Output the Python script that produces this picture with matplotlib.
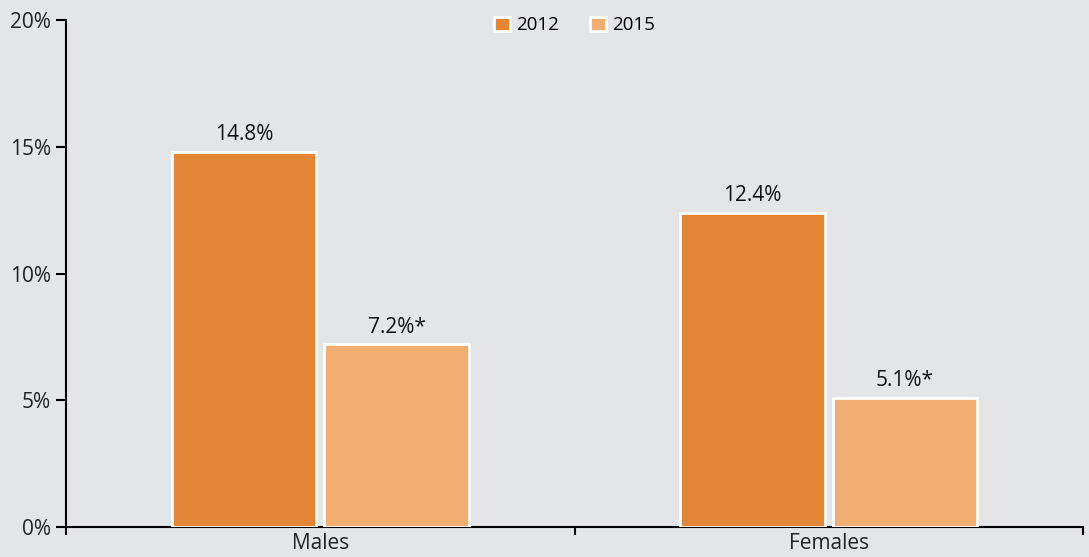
import numpy as np
import matplotlib.pyplot as plt

groups = ["Males", "Females"]
years = ["2012", "2015"]
values_2012 = [14.8, 12.4]
values_2015 = [7.2, 5.1]
labels_2012 = ["14.8%", "12.4%"]
labels_2015 = ["7.2%*", "5.1%*"]
yticks = [0, 5, 10, 15, 20]

bg = "#e4e5e7"
c2012 = "#e38535"
c2015 = "#f2ad70"

plt.rcParams['font.family'] = ['Open Sans', 'DejaVu Sans']

fig = plt.figure(figsize=(10.89, 5.57), dpi=100, facecolor=bg)
ax = fig.add_axes([66 / 1089, 1 - 527 / 557, (1083 - 66) / 1089, (527 - 20) / 557])
ax.set_facecolor(bg)

x = np.arange(len(groups))
w = 0.285
b1 = ax.bar(x - 0.15, values_2012, w, color=c2012, edgecolor="white", linewidth=2, label=years[0], zorder=3)
b2 = ax.bar(x + 0.15, values_2015, w, color=c2015, edgecolor="white", linewidth=2, label=years[1], zorder=3)

for bars, labs in ((b1, labels_2012), (b2, labels_2015)):
    for r, t in zip(bars, labs):
        ax.text(r.get_x() + r.get_width() / 2, r.get_height() + 0.25, t,
                ha="center", va="bottom", fontsize=15, color="#111111")

ax.set_xlim(-0.5, 1.5)
ax.set_ylim(0, 20)
ax.set_yticks(yticks)
ax.set_yticklabels([f"{v}%" for v in yticks], fontsize=15, color="#222222")
ax.set_xticks([-0.5, 0.5, 1.5])
ax.set_xticklabels([])
ax.set_xticks(x, minor=True)
ax.set_xticklabels(groups, minor=True, fontsize=15, color="#222222")
ax.tick_params(axis="x", which="minor", length=0, pad=4)
ax.tick_params(axis="x", which="major", length=6, width=1.5, color="black")
ax.tick_params(axis="y", length=7, width=1.5, color="black", pad=4)

for s in ("top", "right"):
    ax.spines[s].set_visible(False)
for s in ("left", "bottom"):
    ax.spines[s].set_linewidth(1.5)
    ax.spines[s].set_color("black")

leg = ax.legend(loc="center", bbox_to_anchor=(0.5, 1 - 5.5 / 507), ncol=2, frameon=False,
                fontsize=13.5, handlelength=0.85, handleheight=0.85, handletextpad=0.35,
                columnspacing=1.65, borderpad=0)

fig.savefig("out.png", dpi=100, facecolor=bg)
